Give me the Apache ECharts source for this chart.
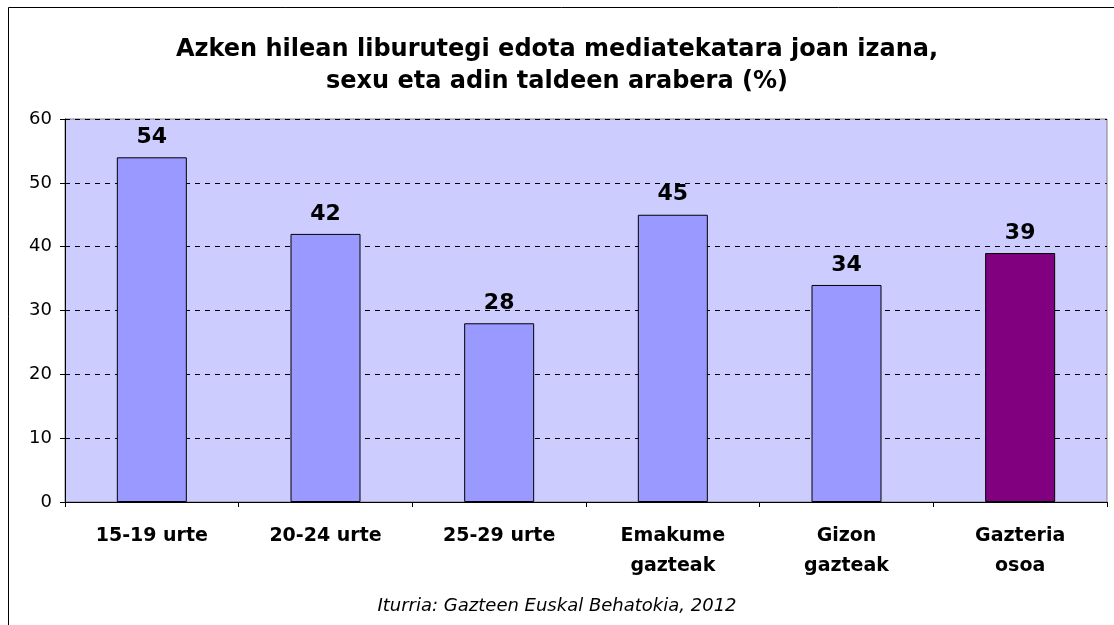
<!DOCTYPE html>
<html>
<head>
<meta charset="utf-8">
<script src="https://cdn.jsdelivr.net/npm/echarts@6/dist/echarts.min.js"></script>
<style>
html, body { margin: 0; padding: 0; background: #fff; }
#main { width: 1114px; height: 625px; }
</style>
</head>
<body>
<div id="main"></div>
<script type="text/javascript">
// datuak
var categories = ['15-19 urte', '20-24 urte', '25-29 urte', 'Emakume\ngazteak', 'Gizon\ngazteak', 'Gazteria\nosoa'];
var values = [54, 42, 28, 45, 34, 39];
var barColors = ['#9999FF', '#9999FF', '#9999FF', '#9999FF', '#9999FF', '#800080'];
var yTicks = [0, 10, 20, 30, 40, 50, 60];

var myChart = echarts.init(document.getElementById('main'));
var fontFamily = 'DejaVu Sans, Verdana, sans-serif';

var option = {
  backgroundColor: '#fff',
  animation: false,
  title: {
    text: 'Azken hilean liburutegi edota mediatekatara joan izana,\nsexu eta adin taldeen arabera (%)',
    left: 'center',
    top: 29,
    textStyle: {
      fontFamily: fontFamily,
      fontSize: 24,
      fontWeight: 'bold',
      color: '#000',
      lineHeight: 32
    }
  },
  grid: {
    left: 65,
    right: 7,
    top: 119,
    bottom: 123,
    show: true,
    backgroundColor: '#CCCCFF',
    borderColor: '#808080',
    borderWidth: 1
  },
  graphic: [
    {
      type: 'rect',
      shape: { x: 8.5, y: 7.5, width: 1200, height: 700 },
      style: { fill: 'none', stroke: '#000', lineWidth: 1 },
      z: 100
    },
    {
      type: 'text',
      left: 'center',
      top: 597,
      style: {
        text: 'Iturria: Gazteen Euskal Behatokia, 2012',
        font: 'italic 18px ' + fontFamily,
        fill: '#000'
      }
    }
  ],
  xAxis: {
    type: 'category',
    data: categories,
    axisLine: { lineStyle: { color: '#000', width: 1 } },
    axisTick: { show: true, alignWithLabel: false, length: 5, lineStyle: { color: '#000' } },
    axisLabel: {
      fontFamily: fontFamily,
      fontSize: 19,
      fontWeight: 'bold',
      color: '#000',
      margin: 19,
      lineHeight: 30
    }
  },
  yAxis: {
    type: 'value',
    min: yTicks[0],
    max: yTicks[yTicks.length - 1],
    interval: 10,
    axisLine: { show: true, lineStyle: { color: '#000' } },
    axisTick: { show: true, length: 5, lineStyle: { color: '#000' } },
    axisLabel: {
      fontFamily: fontFamily,
      fontSize: 18,
      color: '#000',
      margin: 13
    },
    splitLine: {
      show: true,
      lineStyle: { color: '#000', type: [5, 5], width: 1 }
    }
  },
  series: [
    {
      type: 'bar',
      barWidth: 70,
      data: values.map(function (v, i) {
        return { value: v, itemStyle: { color: barColors[i] } };
      }),
      itemStyle: { borderColor: '#000', borderWidth: 1 },
      label: {
        show: true,
        position: 'top',
        distance: 9,
        fontFamily: fontFamily,
        fontSize: 22,
        fontWeight: 'bold',
        color: '#000'
      }
    }
  ]
};

myChart.setOption(option);
</script>
</body>
</html>
